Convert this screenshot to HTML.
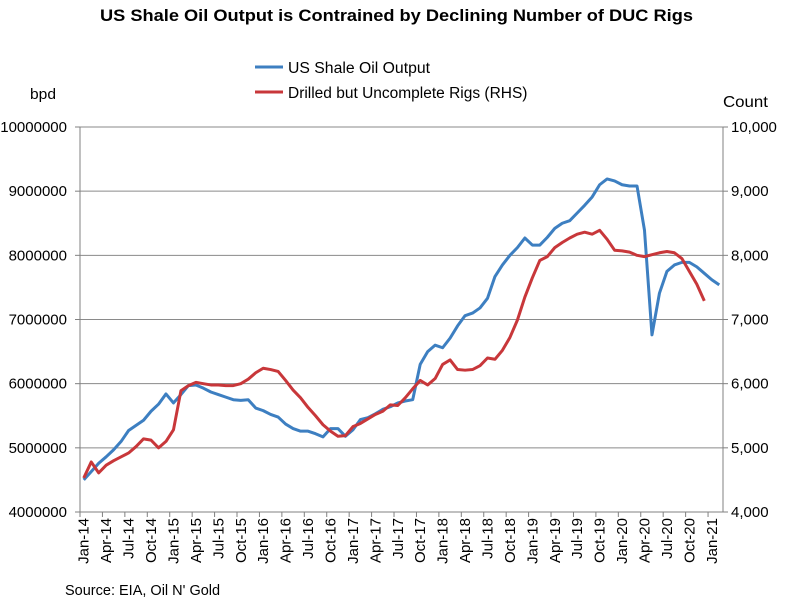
<!DOCTYPE html>
<html><head><meta charset="utf-8"><style>
body{margin:0;background:#fff;}
svg text{font-family:"Liberation Sans",Arial,sans-serif;}
</style></head><body>
<svg id="chart" width="794" height="604" xmlns="http://www.w3.org/2000/svg">
<text x="100" y="21" font-size="17" font-weight="bold" textLength="593" lengthAdjust="spacingAndGlyphs">US Shale Oil Output is Contrained by Declining Number of DUC Rigs</text>
<g>
<line x1="255" y1="67" x2="283" y2="67" stroke="#3d7fc1" stroke-width="3"/>
<text x="288" y="73" font-size="15.5" textLength="142" lengthAdjust="spacingAndGlyphs">US Shale Oil Output</text>
<line x1="255" y1="92" x2="283" y2="92" stroke="#c8373a" stroke-width="3"/>
<text x="288" y="98" font-size="15.5">Drilled but Uncomplete Rigs (RHS)</text>
</g>
<text x="30" y="99" font-size="15" textLength="26" lengthAdjust="spacingAndGlyphs">bpd</text>
<text x="723" y="107" font-size="16" textLength="45" lengthAdjust="spacingAndGlyphs">Count</text>
<text x="65" y="595" font-size="14.5">Source: EIA, Oil N' Gold</text>
<g id="grid"></g><g id="axes"></g><g id="series"></g>
</svg>
<script>
const months=["Jan","Feb","Mar","Apr","May","Jun","Jul","Aug","Sep","Oct","Nov","Dec"];
const leftTicks=[4000000,5000000,6000000,7000000,8000000,9000000,10000000];
const rightTicks=["4,000","5,000","6,000","7,000","8,000","9,000","10,000"];
const outputBpd=[4.5,4.63,4.76,4.86,4.97,5.1,5.27,5.35,5.43,5.57,5.68,5.84,5.7,5.83,5.97,5.98,5.93,5.87,5.83,5.79,5.75,5.74,5.75,5.62,5.58,5.52,5.48,5.37,5.3,5.26,5.26,5.22,5.17,5.3,5.3,5.18,5.28,5.44,5.47,5.53,5.6,5.64,5.7,5.73,5.75,6.3,6.5,6.6,6.56,6.71,6.9,7.06,7.1,7.18,7.33,7.67,7.85,8.0,8.12,8.27,8.16,8.16,8.28,8.42,8.5,8.54,8.66,8.78,8.91,9.1,9.19,9.16,9.1,9.08,9.08,8.39,6.76,7.41,7.75,7.85,7.89,7.89,7.82,7.72,7.62,7.54].map(v=>v*1e6);
const ducCount=[4530,4780,4610,4730,4800,4860,4920,5020,5140,5120,5000,5100,5280,5890,5970,6020,6000,5980,5980,5970,5970,6000,6070,6170,6240,6220,6190,6050,5900,5780,5630,5500,5360,5260,5180,5190,5330,5380,5450,5520,5570,5670,5660,5780,5920,6050,5980,6080,6300,6370,6220,6210,6220,6280,6400,6380,6520,6720,6990,7350,7650,7920,7980,8120,8200,8270,8330,8360,8330,8390,8250,8080,8070,8050,8000,7980,8010,8040,8060,8040,7950,7750,7550,7290];
const NS="http://www.w3.org/2000/svg";
const L=80,R=723,T=127,B=512,N=86;
const cw=(R-L)/N;
const xc=i=>L+(i+0.5)*cw;
const yL=v=>B-(v-4e6)/6e6*(B-T);
const yR=v=>B-(v-4000)/6000*(B-T);
function mk(tag,attrs,parent){const e=document.createElementNS(NS,tag);for(const k in attrs)e.setAttribute(k,attrs[k]);parent.appendChild(e);return e;}
const grid=document.getElementById('grid'),axes=document.getElementById('axes'),series=document.getElementById('series');
leftTicks.forEach((v,k)=>{
 const y=yL(v);
 if(k>0){const g=mk('line',{x1:L,x2:R,y1:y,y2:y,stroke:'#8a8a8a','stroke-width':1},grid);
 
 }
 const t=mk('text',{x:L-13,y:y+5,'text-anchor':'end','font-size':15},axes);t.textContent=v;
 
 
 const t2=mk('text',{x:R+8,y:y+5,'font-size':15},axes);t2.textContent=rightTicks[k];
 
 
 [[L-5,L],[R,R+5]].forEach(p=>{const tk=mk('line',{x1:p[0],x2:p[1],y1:y,y2:y,stroke:'#808080'},axes);
 
 });
});
const al=mk('line',{x1:L,x2:L,y1:T,y2:B,stroke:'#808080'},axes);


const ar=mk('line',{x1:R,x2:R,y1:T,y2:B,stroke:'#808080'},axes);


const ab=mk('line',{x1:L,x2:R,y1:B,y2:B,stroke:'#808080'},axes);


for(let i=0;i<N;i+=3){
 const x=L+i*cw;
 const tk=mk('line',{x1:x,x2:x,y1:B,y2:B+5,stroke:'#808080'},axes);
 
 
 const lab=months[i%12]+'-'+(14+Math.floor(i/12));
 const xx=xc(i)+5;
 const t=mk('text',{x:xx,y:B+6,'text-anchor':'end','font-size':15,transform:`rotate(-90 ${xx} ${B+6})`},axes);
 t.textContent=lab;
 
 
}
const p1=mk('polyline',{points:outputBpd.map((v,i)=>xc(i)+','+yL(v)).join(' '),fill:'none',stroke:'#3d7fc1','stroke-width':3,'stroke-linejoin':'round'},series);


const p2=mk('polyline',{points:ducCount.map((v,i)=>xc(i)+','+yR(v)).join(' '),fill:'none',stroke:'#c8373a','stroke-width':3,'stroke-linejoin':'round'},series);


</script>
</body></html>
